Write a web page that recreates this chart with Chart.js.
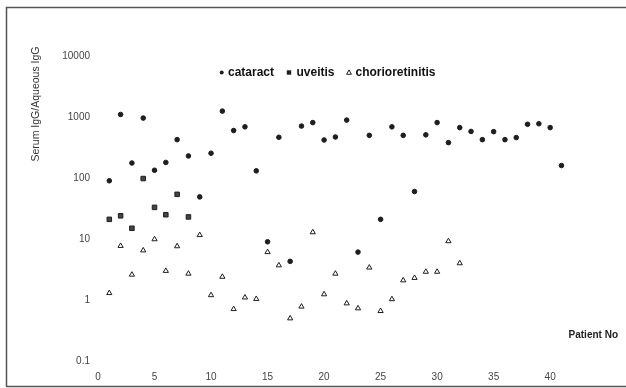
<!DOCTYPE html>
<html>
<head>
<meta charset="utf-8">
<script src="https://cdn.jsdelivr.net/npm/chart.js@4.4.1/dist/chart.umd.min.js"></script>
<style>
  html, body { margin: 0; padding: 0; background: #fff; }
  #wrap { width: 626px; height: 388px; position: relative; }
</style>
</head>
<body>
<div id="wrap"><canvas id="c" width="626" height="388"></canvas></div>
<script>
// ---- data ----
const seriesNames = ['cataract', 'uveitis', 'chorioretinitis'];
const xTitle = 'Patient No';
const yTitle = 'Serum IgG/Aqueous IgG';
const yTickValues = [0.1, 1, 10, 100, 1000, 10000];
const xTickValues = [0, 5, 10, 15, 20, 25, 30, 35, 40];

const cataractPatients = [1,2,3,4,5,6,7,8,9,10,11,12,13,14,15,16,17,18,19,20,21,22,23,24,25,26,27,28,29,30,31,32,33,34,35,36,37,38,39,40,41];
const cataractValues = [90,1100,176,960,134,180,425,230,49,255,1250,600,690,131,9.0,465,4.3,710,810,420,470,890,6.1,500,21,690,500,60,510,810,380,670,580,425,575,425,460,760,775,670,160];

const uveitisPatients = [1,2,3,4,5,6,7,8];
const uveitisValues = [21,24,15,98,33,25,54,23];

const chorioPatients = [1,2,3,4,5,6,7,8,9,10,11,12,13,14,15,16,17,18,19,20,21,22,23,24,25,26,27,28,29,30,31,32];
const chorioValues = [1.3,7.7,2.6,6.5,9.9,3.0,7.6,2.7,11.6,1.2,2.4,0.71,1.1,1.04,6.1,3.7,0.5,0.78,12.9,1.24,2.7,0.88,0.73,3.4,0.66,1.03,2.1,2.3,2.9,2.9,9.2,4.0];

const toPts = (xs, ys) => xs.map((x, i) => ({ x: x, y: ys[i] }));

const INK = '#1e1e1e';

const framePlugin = {
  id: 'frame',
  beforeDraw(chart) {
    const ctx = chart.ctx;
    ctx.save();
    ctx.fillStyle = '#fff';
    ctx.fillRect(0, 0, chart.width, chart.height);
    ctx.strokeStyle = '#555';
    ctx.lineWidth = 1.5;
    ctx.beginPath();
    ctx.moveTo(626, 7.5); ctx.lineTo(6.5, 7.5); ctx.lineTo(6.5, 386.5); ctx.lineTo(626, 386.5);
    ctx.stroke();
    ctx.restore();
  }
};

const textPlugin = {
  id: 'texts',
  afterDraw(chart) {
    const ctx = chart.ctx;
    ctx.save();
    // y title
    ctx.translate(36, 104);
    ctx.rotate(-Math.PI / 2);
    ctx.fillStyle = '#333';
    ctx.font = '10.5px "Liberation Sans", Arial, sans-serif';
    ctx.textAlign = 'center';
    ctx.textBaseline = 'middle';
    ctx.fillText(yTitle, 0, 0);
    ctx.restore();

    ctx.save();
    ctx.fillStyle = '#222';
    ctx.font = 'bold 10px "Liberation Sans", Arial, sans-serif';
    ctx.textAlign = 'right';
    ctx.textBaseline = 'middle';
    ctx.fillText(xTitle, 618, 335);
    ctx.restore();

    // legend
    const ds = chart.data.datasets;
    const y = 72.5;
    const items = [
      { mx: 221.7, tx: 228, shape: 'circle' },
      { mx: 289, tx: 296.5, shape: 'rect' },
      { mx: 349, tx: 355.5, shape: 'triangle' }
    ];
    ctx.save();
    ctx.font = 'bold 12px "Liberation Sans", Arial, sans-serif';
    ctx.textBaseline = 'middle';
    ctx.textAlign = 'left';
    items.forEach((it, i) => {
      ctx.strokeStyle = INK;
      ctx.fillStyle = INK;
      ctx.lineWidth = 1;
      if (it.shape === 'circle') {
        ctx.beginPath(); ctx.arc(it.mx, y, 2, 0, Math.PI * 2); ctx.fill();
      } else if (it.shape === 'rect') {
        ctx.fillRect(it.mx - 2.2, y - 2.2, 4.4, 4.4);
      } else {
        ctx.beginPath();
        ctx.moveTo(it.mx, y - 2.6); ctx.lineTo(it.mx + 2.4, y + 1.8); ctx.lineTo(it.mx - 2.4, y + 1.8); ctx.closePath();
        ctx.stroke();
      }
      ctx.fillStyle = '#111';
      ctx.fillText(ds[i].label, it.tx, y);
    });
    ctx.restore();
  }
};

new Chart(document.getElementById('c'), {
  type: 'scatter',
  data: {
    datasets: [
      { label: seriesNames[0], data: toPts(cataractPatients, cataractValues), pointStyle: 'circle', pointRadius: 2.3, pointBorderWidth: 1, pointBackgroundColor: INK, pointBorderColor: INK, showLine: false },
      { label: seriesNames[1], data: toPts(uveitisPatients, uveitisValues), pointStyle: 'rect', pointRadius: 3.2, pointBorderWidth: 1, pointBackgroundColor: '#444', pointBorderColor: INK, showLine: false },
      { label: seriesNames[2], data: toPts(chorioPatients, chorioValues), pointStyle: 'triangle', pointRadius: 3, pointBorderWidth: 1, pointBackgroundColor: '#fff', pointBorderColor: INK, showLine: false }
    ]
  },
  options: {
    responsive: false,
    animation: false,
    clip: false,
    layout: { padding: { left: 0, right: 8, top: 56, bottom: 0 } },
    plugins: { legend: { display: false }, tooltip: { enabled: false } },
    scales: {
      x: {
        type: 'linear', min: 0, max: 46,
        grid: { display: false, drawTicks: false }, border: { display: false },
        afterBuildTicks: (s) => { s.ticks = xTickValues.map(v => ({ value: v })); },
        afterFit: (s) => { s.height = 27; },
        ticks: { color: '#444', font: { family: '"Liberation Sans", Arial, sans-serif', size: 10 }, padding: 10, maxRotation: 0 }
      },
      y: {
        type: 'logarithmic', min: 0.1, max: 10000,
        grid: { display: false, drawTicks: false }, border: { display: false },
        afterBuildTicks: (s) => { s.ticks = yTickValues.map(v => ({ value: v })); },
        afterFit: (s) => { s.width = 98; },
        ticks: { color: '#444', font: { family: '"Liberation Sans", Arial, sans-serif', size: 10 }, padding: 8, callback: (v) => String(v) }
      }
    }
  },
  plugins: [framePlugin, textPlugin]
});
</script>
</body>
</html>
